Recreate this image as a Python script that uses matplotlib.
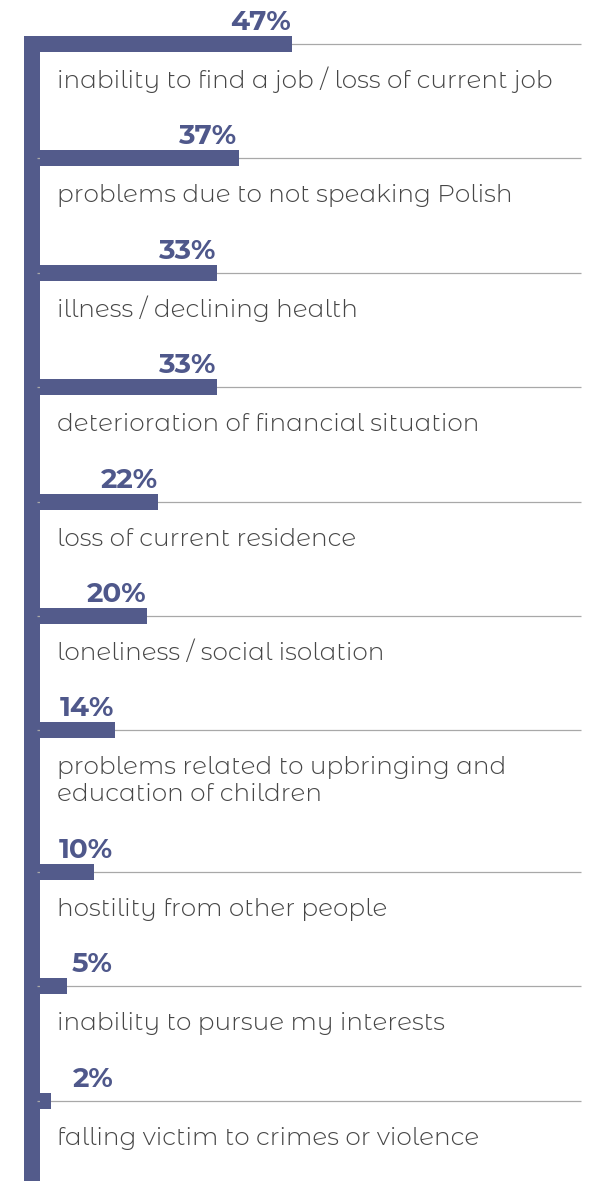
import matplotlib
matplotlib.use("Agg")
import matplotlib.pyplot as plt
from matplotlib.patches import Rectangle

# ---- data ----
categories = [
    "inability to find a job / loss of current job",
    "problems due to not speaking Polish",
    "illness / declining health",
    "deterioration of financial situation",
    "loss of current residence",
    "loneliness / social isolation",
    "problems related to upbringing and\neducation of children",
    "hostility from other people",
    "inability to pursue my interests",
    "falling victim to crimes or violence",
]
values = [47, 37, 33, 33, 22, 20, 14, 10, 5, 2]
value_labels = [f"{v}%" for v in values]

# ---- style ----
W, H = 590, 1181
BAR = "#535b8b"
VAL = "#4f588b"
TXT = "#464646"
GRID = "#a8a8a8"
PX_PER_PCT = 5.37          # pixels per percentage point
X0 = 40                    # pixel x of 0 %
AXIS_W = 16                # vertical bar width (px)
BAR_H = 16                 # bar thickness (px)
ROW = 114.4                # row pitch (px)
LINE = 27                  # extra pitch per extra label line
Y_FIRST = 44

fig = plt.figure(figsize=(W / 100, H / 100), dpi=100)
ax = fig.add_axes([0, 0, 1, 1])
ax.set_xlim(-X0 / PX_PER_PCT, (W - X0) / PX_PER_PCT)
ax.set_ylim(H, 0)
ax.axis("off")

# row centres derived from label line counts
ys = []
y = Y_FIRST
for c in categories:
    ys.append(y)
    y += ROW + LINE * c.count("\n")

px = 1 / PX_PER_PCT  # one pixel in x data units

# vertical axis bar
ax.add_patch(Rectangle((-AXIS_W * px, ys[0] - BAR_H / 2), AXIS_W * px, H,
                       color=BAR, lw=0, zorder=1))
# gray guide lines
ax.hlines(ys, -3 * px, (581 - X0) * px, color=GRID, lw=0.9, zorder=2)
# bars
ax.barh(ys, values, height=BAR_H, left=0, color=BAR, lw=0, zorder=3)
# corner cap on first row
ax.add_patch(Rectangle((-AXIS_W * px, ys[0] - BAR_H / 2), AXIS_W * px, BAR_H,
                       color=BAR, lw=0, zorder=4))

min_right = (113 - X0) * px
for yc, v, lab, cat in zip(ys, values, value_labels, categories):
    xr = max(v - 0.25, min_right)
    ax.text(xr, yc - BAR_H / 2 - 6, lab, ha="right", va="baseline",
            family="Montserrat Alternates", weight="bold", fontsize=20,
            color=VAL, zorder=5)
    n_extra = cat.count("\n")
    ax.text((57 - X0) * px, yc + 44 + LINE * n_extra, cat, ha="left", va="baseline",
            family="Montserrat Alternates", weight=300, fontsize=17.8,
            color=TXT, linespacing=1.24, zorder=5)

fig.savefig("out.png", dpi=100)
